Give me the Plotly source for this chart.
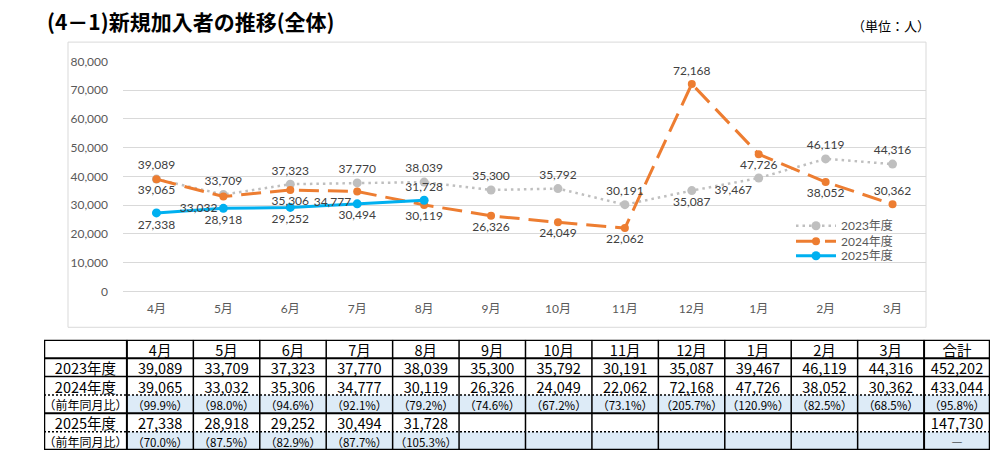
"""新規加入者の推移(全体) — 折れ線グラフ + 月別集計表."""

import plotly.graph_objects as go

W, H = 1007, 467          # browser window
OFF = 8                   # default body margin of the page
FW, FH = W - 2 * OFF, H - 2 * OFF

# ---- data ---------------------------------------------------------------
months = ["4月", "5月", "6月", "7月", "8月", "9月", "10月", "11月", "12月", "1月", "2月", "3月"]
fy2023 = [39089, 33709, 37323, 37770, 38039, 35300, 35792, 30191, 35087, 39467, 46119, 44316]
fy2024 = [39065, 33032, 35306, 34777, 30119, 26326, 24049, 22062, 72168, 47726, 38052, 30362]
fy2025 = [27338, 28918, 29252, 30494, 31728]
yoy2024 = [99.9, 98.0, 94.6, 92.1, 79.2, 74.6, 67.2, 73.1, 205.7, 120.9, 82.5, 68.5]
yoy2025 = [70.0, 87.5, 82.9, 87.7, 105.3]
total_2023 = 452202
total_2024 = 433044
total_yoy2024 = 95.8
total_2025 = 147730
series_names = ["2023年度", "2024年度", "2025年度"]
row_labels = ["2023年度", "2024年度", "（前年同月比）", "2025年度", "（前年同月比）"]
total_label = "合計"

# ---- style --------------------------------------------------------------
JP = "Noto Sans CJK JP"
LAT = "Lato, Noto Sans CJK JP"
GRAY, ORANGE, BLUE = "#BFBFBF", "#ED7D31", "#00B0F0"
GRID = "#D9D9D9"
LABEL_FONT = dict(family=LAT, size=12, color="#404040")

pos2023 = ["top center"] * 8 + ["bottom center", "bottom left", "top center", "top center"]
pos2024 = ["bottom center", "bottom left", "bottom center", "bottom left", "bottom center",
           "bottom center", "bottom center", "bottom center", "top center", "bottom center",
           "bottom center", "top center"]
pos2025 = ["bottom center"] * 4 + ["top center"]
legend_rows = [225, 241, 256]

COL_W = [83] + [66.5] * 12 + [66]
edges = [0]
for w in COL_W:
    edges.append(edges[-1] + w)
centers = [(a + b) / 2 for a, b in zip(edges[:-1], edges[1:])]
N_ROWS = 6
TEXT_DY = 0.17            # CJK font sits a little high in its cell


def px_x(p):
    return (p - OFF) / FW


def px_y(p):
    return 1 - (p - OFF) / FH


def fmt(v):
    return f"{v:,}"


def pct(r):
    return f"（{r:.1f}%）"


fig = go.Figure()

# ---- chart --------------------------------------------------------------
line_specs = [
    (fy2023, GRAY, dict(width=2.5, dash="2.5px,4px"), 9, pos2023),
    (fy2024, ORANGE, dict(width=3, dash="20px,9px"), 8, pos2024),
    (fy2025, BLUE, dict(width=3), 9, pos2025),
]
legend_ids = ["legend", "legend2", "legend3"]
for name, lid, (vals, color, line, msize, _) in zip(series_names, legend_ids, line_specs):
    fig.add_trace(go.Scatter(
        x=months[:len(vals)], y=vals, name=name, mode="lines+markers", legend=lid,
        line=dict(color=color, **line), marker=dict(size=msize, color=color),
        hoverinfo="x+y+name",
    ))
for vals, color, line, msize, pos in line_specs:
    fig.add_trace(go.Scatter(
        x=months[:len(vals)], y=vals, mode="markers+text",
        marker=dict(size=msize, color="rgba(0,0,0,0)"),
        text=[fmt(v) for v in vals], textposition=pos, textfont=LABEL_FONT,
        showlegend=False, hoverinfo="skip", cliponaxis=False,
    ))

# ---- table (drawn on its own axes) --------------------------------------


def cell_row(xs, rows, texts, size):
    return go.Scatter(
        x=xs, y=[r + TEXT_DY for r in rows], text=texts, mode="text",
        textposition="middle center",
        textfont=dict(family=JP, size=size, color="#000000"),
        xaxis="x2", yaxis="y2", showlegend=False, hoverinfo="skip", cliponaxis=False,
    )


data_cx = centers[1:]
fig.add_trace(cell_row(data_cx, [0] * 13, months + [total_label], 14.5))
fig.add_trace(cell_row([centers[0]] * 5, [1, 2, 3, 4, 5], row_labels,
                       [14.5, 14.5, 12, 14.5, 12]))
fig.add_trace(cell_row(data_cx, [1] * 13, [fmt(v) for v in fy2023] + [fmt(total_2023)], 14.5))
fig.add_trace(cell_row(data_cx, [2] * 13, [fmt(v) for v in fy2024] + [fmt(total_2024)], 14.5))
fig.add_trace(cell_row(data_cx, [3] * 13, [pct(r) for r in yoy2024] + [pct(total_yoy2024)],
                       11.5))
fig.add_trace(cell_row(centers[1:1 + len(fy2025)] + [centers[-1]], [4] * (len(fy2025) + 1),
                       [fmt(v) for v in fy2025] + [fmt(total_2025)], 14.5))
fig.add_trace(cell_row(centers[1:1 + len(yoy2025)] + [centers[-1]], [5] * (len(yoy2025) + 1),
                       [pct(r) for r in yoy2025] + ["―"], 11.5))

shapes = []
# light-blue ratio rows
for r in (3, 5):
    shapes.append(dict(type="rect", xref="x2", yref="y2", x0=edges[1], x1=edges[-1],
                       y0=r - 0.5, y1=r + 0.5, fillcolor="#DDEBF7", line=dict(width=0),
                       layer="below"))
# horizontal rules
h_rules = {0.5: (2, "solid"), 1.5: (1.5, "solid"), 2.5: (1.5, "2px,2px"),
           3.5: (2, "solid"), 4.5: (1.5, "2px,2px")}
for yv, (lw, dash) in h_rules.items():
    shapes.append(dict(type="line", xref="x2", yref="y2", x0=0, x1=edges[-1], y0=yv, y1=yv,
                       line=dict(color="#000000", width=lw, dash=dash)))
# vertical rules
for i, xv in enumerate(edges[1:-1], start=1):
    lw = 2 if i in (1, len(edges) - 2) else 1.5
    shapes.append(dict(type="line", xref="x2", yref="y2", x0=xv, x1=xv, y0=-0.5, y1=N_ROWS - 0.5,
                       line=dict(color="#000000", width=lw)))
# outer border
shapes.append(dict(type="rect", xref="x2", yref="y2", x0=0, x1=edges[-1], y0=-0.5,
                   y1=N_ROWS - 0.5, line=dict(color="#000000", width=2.5)))
# chart area frame
shapes.append(dict(type="rect", xref="paper", yref="paper", x0=px_x(68), x1=px_x(926),
                   y0=px_y(330), y1=px_y(35), line=dict(color=GRID, width=1), layer="below"))

legend_common = dict(xanchor="left", yanchor="middle", bgcolor="rgba(0,0,0,0)",
                     font=dict(family=LAT, size=12, color="#595959"), itemwidth=40)
legends = {lid: dict(x=px_x(791), y=px_y(yr), **legend_common)
           for lid, yr in zip(legend_ids, legend_rows)}

fig.update_layout(
    width=FW, height=FH,
    margin=dict(l=0, r=0, t=0, b=0),
    paper_bgcolor="#FFFFFF", plot_bgcolor="rgba(0,0,0,0)",
    font=dict(family=LAT, color="#595959"),
    shapes=shapes,
    xaxis=dict(domain=[px_x(123), px_x(926)], type="category", range=[-0.5, 11.5],
               showgrid=False, showline=False, ticks="", zeroline=False,
               tickfont=dict(family=LAT, size=12, color="#595959"), ticklabelstandoff=8),
    yaxis=dict(domain=[px_y(293), px_y(55)], range=[0, 80000], dtick=10000, tickformat=",",
               showgrid=True, gridcolor=GRID, gridwidth=1, zeroline=True, zerolinecolor=GRID,
               zerolinewidth=1, showline=False, ticks="",
               tickfont=dict(family=LAT, size=12, color="#595959"), ticklabelstandoff=14),
    xaxis2=dict(domain=[px_x(44), px_x(990)], range=[0, edges[-1]], visible=False,
                anchor="y2", fixedrange=True),
    yaxis2=dict(domain=[px_y(457), px_y(343)], range=[N_ROWS - 0.5, -0.5], visible=False,
                anchor="x2", fixedrange=True),
    annotations=[
        dict(text="<b>(4－1)新規加入者の推移(全体)</b>", xref="paper", yref="paper",
             x=px_x(45), y=px_y(13), xanchor="left", yanchor="middle", showarrow=False,
             font=dict(family=JP, size=21, color="#000000")),
        dict(text="（単位：人）", xref="paper", yref="paper", x=px_x(932), y=px_y(18),
             xanchor="right", yanchor="middle", showarrow=False,
             font=dict(family=JP, size=13, color="#000000")),
    ],
    hovermode="closest",
    **legends,
)

fig.write_html("out.html")
